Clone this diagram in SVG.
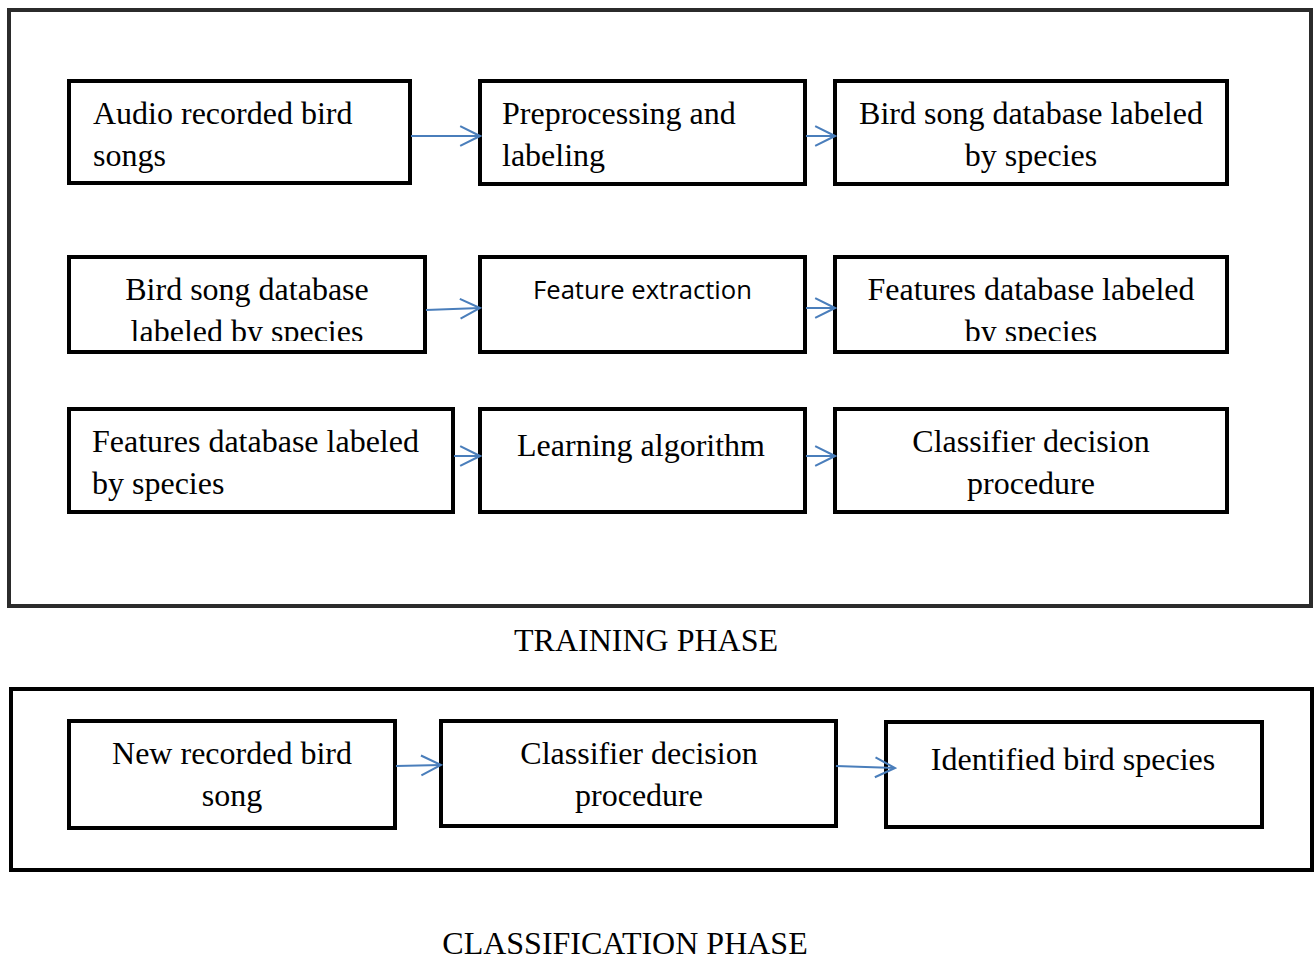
<svg xmlns="http://www.w3.org/2000/svg" width="1315" height="959" viewBox="0 0 1315 959">
<style>
.frame{fill:none;stroke-width:4}
.box{fill:#fff;stroke:#000;stroke-width:4}
.t{font-family:"Liberation Serif","Times New Roman",serif;font-size:32px;fill:#000}
.c{text-anchor:middle}
.s{font-family:"Open Sans","Noto Sans",sans-serif;font-size:26px;fill:#000}
.ph{font-family:"Liberation Serif","Times New Roman",serif;font-size:32px;fill:#000;text-anchor:middle}
.arr{fill:none;stroke:#4a7ebb;stroke-width:2;marker-end:url(#ah)}
</style>
<defs>
<marker id="ah" markerUnits="userSpaceOnUse" markerWidth="24" markerHeight="24" viewBox="-21 -11 23 22" refX="0" refY="0" orient="auto">
<path d="M-19,-9.5 L0,0 L-19,9.5" fill="none" stroke="#4a7ebb" stroke-width="2"/>
</marker>
<clipPath id="clip2"><rect x="0" y="0" width="1315" height="341"/></clipPath>
</defs>
<rect width="1315" height="959" fill="#fff"/>
<g id="training-frame"><rect class="frame" x="9" y="10" width="1302" height="596" stroke="#2b2b2b"/></g>
<g id="classification-frame"><rect class="frame" x="11" y="689" width="1301" height="181" stroke="#000"/></g>
<g id="n1"><rect class="box" x="69" y="81" width="341" height="102"/><text class="t" x="93" y="124">Audio recorded bird</text><text class="t" x="93" y="166">songs</text></g>
<g id="n2"><rect class="box" x="480" y="81" width="325" height="103"/><text class="t" x="502" y="124">Preprocessing and</text><text class="t" x="502" y="166">labeling</text></g>
<g id="n3"><rect class="box" x="835" y="81" width="392" height="103"/><text class="t c" x="1031" y="124">Bird song database labeled</text><text class="t c" x="1031" y="166">by species</text></g>
<g id="n4"><rect class="box" x="69" y="257" width="356" height="95"/><text class="t c" x="247" y="300">Bird song database</text><text class="t c" x="247" y="342" clip-path="url(#clip2)">labeled by species</text></g>
<g id="n5"><rect class="box" x="480" y="257" width="325" height="95"/><text class="s" x="533" y="299" textLength="219" lengthAdjust="spacingAndGlyphs">Feature extraction</text></g>
<g id="n6"><rect class="box" x="835" y="257" width="392" height="95"/><text class="t c" x="1031" y="300">Features database labeled</text><text class="t c" x="1031" y="342" clip-path="url(#clip2)">by species</text></g>
<g id="n7"><rect class="box" x="69" y="409" width="384" height="103"/><text class="t" x="92" y="452">Features database labeled</text><text class="t" x="92" y="494">by species</text></g>
<g id="n8"><rect class="box" x="480" y="409" width="325" height="103"/><text class="t c" x="641" y="456">Learning algorithm</text></g>
<g id="n9"><rect class="box" x="835" y="409" width="392" height="103"/><text class="t c" x="1031" y="452">Classifier decision</text><text class="t c" x="1031" y="494">procedure</text></g>
<g id="n10"><rect class="box" x="69" y="721" width="326" height="107"/><text class="t c" x="232" y="764">New recorded bird</text><text class="t c" x="232" y="806">song</text></g>
<g id="n11"><rect class="box" x="441" y="721" width="395" height="105"/><text class="t c" x="639" y="764">Classifier decision</text><text class="t c" x="639" y="806">procedure</text></g>
<g id="n12"><rect class="box" x="886" y="722" width="376" height="105"/><text class="t c" x="1073" y="770">Identified bird species</text></g>
<g id="labels">
<text class="ph" x="646" y="651">TRAINING PHASE</text>
<text class="ph" x="625" y="954">CLASSIFICATION PHASE</text>
</g>
<g id="connectors">
<line class="arr" x1="411" y1="136" x2="480" y2="136"/>
<line class="arr" x1="806" y1="136" x2="835" y2="136"/>
<line class="arr" x1="426" y1="310" x2="480" y2="308"/>
<line class="arr" x1="806" y1="308" x2="835" y2="308"/>
<line class="arr" x1="454" y1="456" x2="480" y2="456"/>
<line class="arr" x1="806" y1="456" x2="835" y2="456"/>
<line class="arr" x1="396" y1="766" x2="441" y2="765"/>
<line class="arr" x1="836" y1="766" x2="895" y2="768"/>
</g>
</svg>
